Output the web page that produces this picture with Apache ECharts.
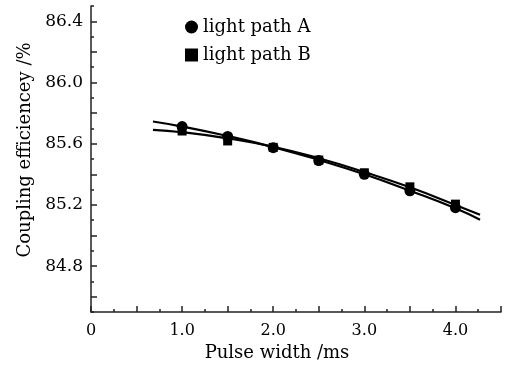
<!DOCTYPE html>
<html>
<head>
<meta charset="utf-8">
<script src="https://cdn.jsdelivr.net/npm/echarts@6/dist/echarts.min.js"></script>
<style>html,body{margin:0;padding:0;background:#fff;}#c{width:511px;height:368px;}</style>
</head>
<body>
<div id="c"></div>
<script>
// measured points
const pulseWidth = [1.0, 1.5, 2.0, 2.5, 3.0, 3.5, 4.0];
const pathA = [85.712, 85.647, 85.574, 85.490, 85.400, 85.292, 85.182];
const pathB = [85.683, 85.618, 85.576, 85.493, 85.410, 85.318, 85.205];
// fitted curves
const fitX = [0.68, 1.0, 1.5, 2.0, 2.5, 3.0, 3.5, 4.0, 4.27];
const fitA = [85.745, 85.712, 85.650, 85.578, 85.494, 85.400, 85.293, 85.178, 85.103];
const fitB = [85.690, 85.675, 85.635, 85.580, 85.505, 85.415, 85.315, 85.200, 85.135];
// ticks
const yMajorTicks = [84.6, 84.8, 85.0, 85.2, 85.4, 85.6, 85.8, 86.0, 86.2, 86.4];
const yLabels = [84.8, 85.2, 85.6, 86.0, 86.4];
const xLabels = [0, 1, 2, 3, 4];

const font = 'DejaVu Serif';
const pair = (xs, ys) => xs.map((x, i) => [x, ys[i]]);

const chart = echarts.init(document.getElementById('c'), null, {renderer: 'canvas'});
chart.setOption({
  animation: false,
  backgroundColor: '#ffffff',
  grid: {left: 91, top: 6, right: 10, bottom: 56, containLabel: false},
  legend: {
    orient: 'vertical', left: 180, top: 13, itemWidth: 13, itemHeight: 13, itemGap: 10,
    textStyle: {fontFamily: font, fontSize: 18, color: '#000'},
    data: [{name: 'light path A', icon: 'circle'}, {name: 'light path B', icon: 'rect'}]
  },
  xAxis: [{
    type: 'value', min: 0, max: 4.5, interval: 0.25, position: 'bottom',
    axisLine: {show: true, lineStyle: {color: '#222', width: 1.5}},
    axisTick: {show: true, inside: true, length: 3, lineStyle: {color: '#222', width: 1.5}},
    axisLabel: {show: false}, splitLine: {show: false}
  }, {
    type: 'value', min: 0, max: 4.5, interval: 0.5, position: 'bottom', offset: 0,
    axisLine: {show: false},
    axisTick: {show: true, inside: true, length: 6, lineStyle: {color: '#222', width: 1.5}},
    axisLabel: {show: true, margin: 11, fontFamily: font, fontSize: 16, color: '#000',
      formatter: v => (Math.abs(v - Math.round(v)) < 1e-6 && xLabels.indexOf(Math.round(v)) >= 0) ? (v === 0 ? '0' : v.toFixed(1)) : ''},
    splitLine: {show: false},
    name: 'Pulse width /ms', nameLocation: 'middle', nameGap: 32,
    nameTextStyle: {fontFamily: font, fontSize: 18, color: '#000', padding: [0, 38, 0, 0]}
  }],
  yAxis: [{
    type: 'value', min: 84.5, max: 86.5, interval: 0.1, position: 'left',
    axisLine: {show: true, lineStyle: {color: '#222', width: 1.5}},
    axisTick: {show: true, inside: true, length: 3, lineStyle: {color: '#222', width: 1.5}},
    axisLabel: {show: false}, splitLine: {show: false}
  }, {
    type: 'value', min: 84.5, max: 86.5, position: 'left', offset: 0,
    axisLine: {show: false},
    axisTick: {show: true, inside: true, length: 6, customValues: yMajorTicks, lineStyle: {color: '#222', width: 1.5}},
    axisLabel: {show: true, margin: 8, customValues: yLabels, fontFamily: font, fontSize: 17, color: '#000',
      formatter: v => v.toFixed(1)},
    splitLine: {show: false},
    name: 'Coupling efficiencey /%', nameLocation: 'middle', nameGap: 57,
    nameTextStyle: {fontFamily: font, fontSize: 18, color: '#000', padding: [0, 0, 0, 18]}
  }],
  series: [
    {name: 'fitA', type: 'line', data: pair(fitX, fitA), smooth: true, showSymbol: false, symbol: 'none',
      lineStyle: {color: '#000', width: 2.2}, z: 2, silent: true},
    {name: 'fitB', type: 'line', data: pair(fitX, fitB), smooth: true, showSymbol: false, symbol: 'none',
      lineStyle: {color: '#000', width: 2.2}, z: 2, silent: true},
    {name: 'light path A', type: 'scatter', data: pair(pulseWidth, pathA), symbol: 'circle', symbolSize: 11,
      itemStyle: {color: '#000', opacity: 1}, z: 3},
    {name: 'light path B', type: 'scatter', data: pair(pulseWidth, pathB), symbol: 'rect', symbolSize: 9,
      itemStyle: {color: '#000', opacity: 1}, z: 3}
  ]
});
</script>
</body>
</html>
